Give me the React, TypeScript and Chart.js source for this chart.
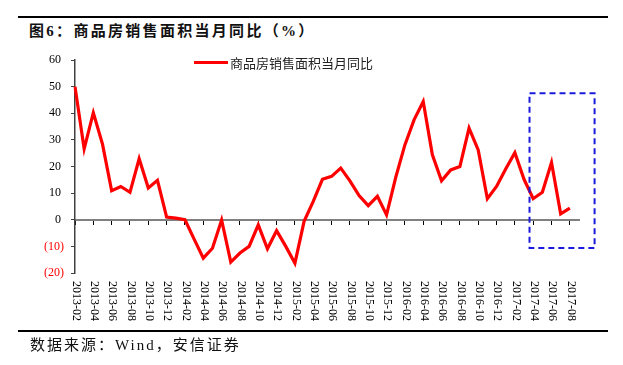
import React, { useEffect, useRef } from "react";
import { Chart, registerables } from "chart.js";

Chart.register(...registerables);

const titleText = "图6：商品房销售面积当月同比（%）";
const sourceText = "数据来源：Wind，安信证券";
const seriesName = "商品房销售面积当月同比";

const months = [
  "2013-02", "2013-03", "2013-04", "2013-05", "2013-06", "2013-07", "2013-08", "2013-09", "2013-10", "2013-11", "2013-12",
  "2014-01", "2014-02", "2014-03", "2014-04", "2014-05", "2014-06", "2014-07", "2014-08", "2014-09", "2014-10", "2014-11", "2014-12",
  "2015-01", "2015-02", "2015-03", "2015-04", "2015-05", "2015-06", "2015-07", "2015-08", "2015-09", "2015-10", "2015-11", "2015-12",
  "2016-01", "2016-02", "2016-03", "2016-04", "2016-05", "2016-06", "2016-07", "2016-08", "2016-09", "2016-10", "2016-11", "2016-12",
  "2017-01", "2017-02", "2017-03", "2017-04", "2017-05", "2017-06", "2017-07", "2017-08", "2017-09",
];

const salesAreaYoY: (number | null)[] = [
  50, 26.6, 40.2, 28.4, 10.9, 12.5, 10.3, 22.9, 11.9, 14.8, 1.0,
  0.6, 0, -7.3, -14.4, -10.7, -0.1, -15.9, -12.5, -10.0, -1.9, -10.9, -4.1,
  -10.0, -16.3, -0.6, 6.9, 15.2, 16.3, 19.4, 14.6, 9.1, 5.3, 8.8, 1.8,
  15.9, 28.1, 37.5, 44.4, 24.4, 14.6, 18.7, 20.0, 34.4, 26.2, 7.9, 12.5,
  19.1, 25.2, 15.2, 7.9, 10.3, 21.5, 2.2, 4.4, null,
];

const yMin = -20;
const yMax = 60;
const yStep = 10;

// highlighted region (category index / value units)
const highlightX = [49.6, 56.7];
const highlightY = [-10.6, 47.5];

const xLabelPlugin = {
  id: "xLabelsRotated",
  afterDraw(chart: any) {
    const { ctx } = chart;
    const xs = chart.scales.x;
    ctx.save();
    ctx.font = '12px "Liberation Serif", "Times New Roman", serif';
    ctx.fillStyle = "#000";
    ctx.textAlign = "left";
    ctx.textBaseline = "middle";
    months.forEach((m, i) => {
      if (i % 2 !== 0) return;
      const x = xs.getPixelForValue(i);
      ctx.save();
      ctx.translate(x + 1, 281);
      ctx.rotate(Math.PI / 2);
      ctx.fillText(m, 0, 0);
      ctx.restore();
    });
    ctx.restore();
  },
};

const boxPlugin = {
  id: "highlightBox",
  afterDatasetsDraw(chart: any) {
    const { ctx } = chart;
    const xs = chart.scales.x;
    const ys = chart.scales.y;
    const x1 = xs.getPixelForValue(highlightX[0]);
    const x2 = xs.getPixelForValue(highlightX[1]);
    const y1 = ys.getPixelForValue(highlightY[1]);
    const y2 = ys.getPixelForValue(highlightY[0]);
    ctx.save();
    ctx.strokeStyle = "#1a1adc";
    ctx.lineWidth = 2;
    ctx.setLineDash([6, 4]);
    ctx.strokeRect(x1, y1, x2 - x1, y2 - y1);
    ctx.restore();
  },
};

export default function App() {
  const canvasRef = useRef<HTMLCanvasElement | null>(null);

  useEffect(() => {
    document.body.style.margin = "0";
    const canvas = canvasRef.current;
    if (!canvas) return;
    const chart = new Chart(canvas, {
      type: "line",
      data: {
        labels: months,
        datasets: [
          {
            label: seriesName,
            data: salesAreaYoY,
            borderColor: "#ff0000",
            backgroundColor: "#ff0000",
            borderWidth: 3.2,
            pointRadius: 0,
            tension: 0,
            spanGaps: false,
          },
        ],
      },
      options: {
        responsive: false,
        animation: false,
        devicePixelRatio: 1,
        layout: { padding: { left: 0, right: 44, top: 60, bottom: 92 } },
        plugins: {
          legend: { display: false },
          tooltip: { enabled: false },
        },
        scales: {
          x: {
            type: "category",
            position: { y: 0 } as any,
            offset: false,
            ticks: { display: false, autoSkip: false },
            grid: {
              drawOnChartArea: false,
              drawTicks: true,
              tickLength: 4,
              color: (c: any) => (c.index % 2 === 0 ? "#000" : "rgba(0,0,0,0)"),
              lineWidth: 1,
            },
            border: { display: true, color: "#808080", width: 2 },
          },
          y: {
            type: "linear",
            position: "left",
            min: yMin,
            max: yMax,
            afterFit: (scale: any) => {
              scale.width = 75;
            },
            ticks: {
              stepSize: yStep,
              padding: 7,
              font: { family: '"Liberation Serif", "Times New Roman", serif', size: 12 },
              color: (c: any) => (c.tick && c.tick.value < 0 ? "#ff0000" : "#000"),
              callback: (v: any) => (v < 0 ? `(${-v})` : `${v} `),
            },
            grid: {
              drawOnChartArea: false,
              drawTicks: true,
              tickLength: 4,
              color: "#404040",
            },
            border: { display: true, color: "#404040", width: 1.5 },
          },
        },
      },
      plugins: [xLabelPlugin, boxPlugin],
    });
    return () => chart.destroy();
  }, []);

  const cjkSerif = '"Liberation Serif", "Noto Sans CJK SC", serif';
  return (
    <div style={{ position: "relative", width: 623, height: 365, background: "#fff", overflow: "hidden" }}>
      <div style={{ position: "absolute", left: 18, top: 16, width: 590, height: 2, background: "#000" }} />
      <div
        style={{
          position: "absolute",
          left: 29,
          top: 22,
          fontFamily: cjkSerif,
          fontWeight: "bold",
          fontSize: 15,
          lineHeight: "18px",
          letterSpacing: 2.3,
          color: "#111",
          whiteSpace: "nowrap",
        }}
      >
        {titleText}
      </div>
      <canvas ref={canvasRef} width={623} height={365} style={{ position: "absolute", left: 0, top: 0, width: 623, height: 365 }} />
      <div style={{ position: "absolute", left: 194, top: 61, width: 34, height: 3, background: "#ff0000" }} />
      <div
        style={{
          position: "absolute",
          left: 230,
          top: 54,
          fontFamily: '"Noto Sans CJK SC", sans-serif',
          fontSize: 13,
          lineHeight: "17px",
          color: "#222",
          whiteSpace: "nowrap",
        }}
      >
        {seriesName}
      </div>
      <div style={{ position: "absolute", left: 18, top: 330, width: 590, height: 2, background: "#000" }} />
      <div
        style={{
          position: "absolute",
          left: 30,
          top: 336,
          fontFamily: cjkSerif,
          fontSize: 15,
          lineHeight: "18px",
          letterSpacing: 2,
          color: "#111",
          whiteSpace: "nowrap",
        }}
      >
        {sourceText}
      </div>
    </div>
  );
}
